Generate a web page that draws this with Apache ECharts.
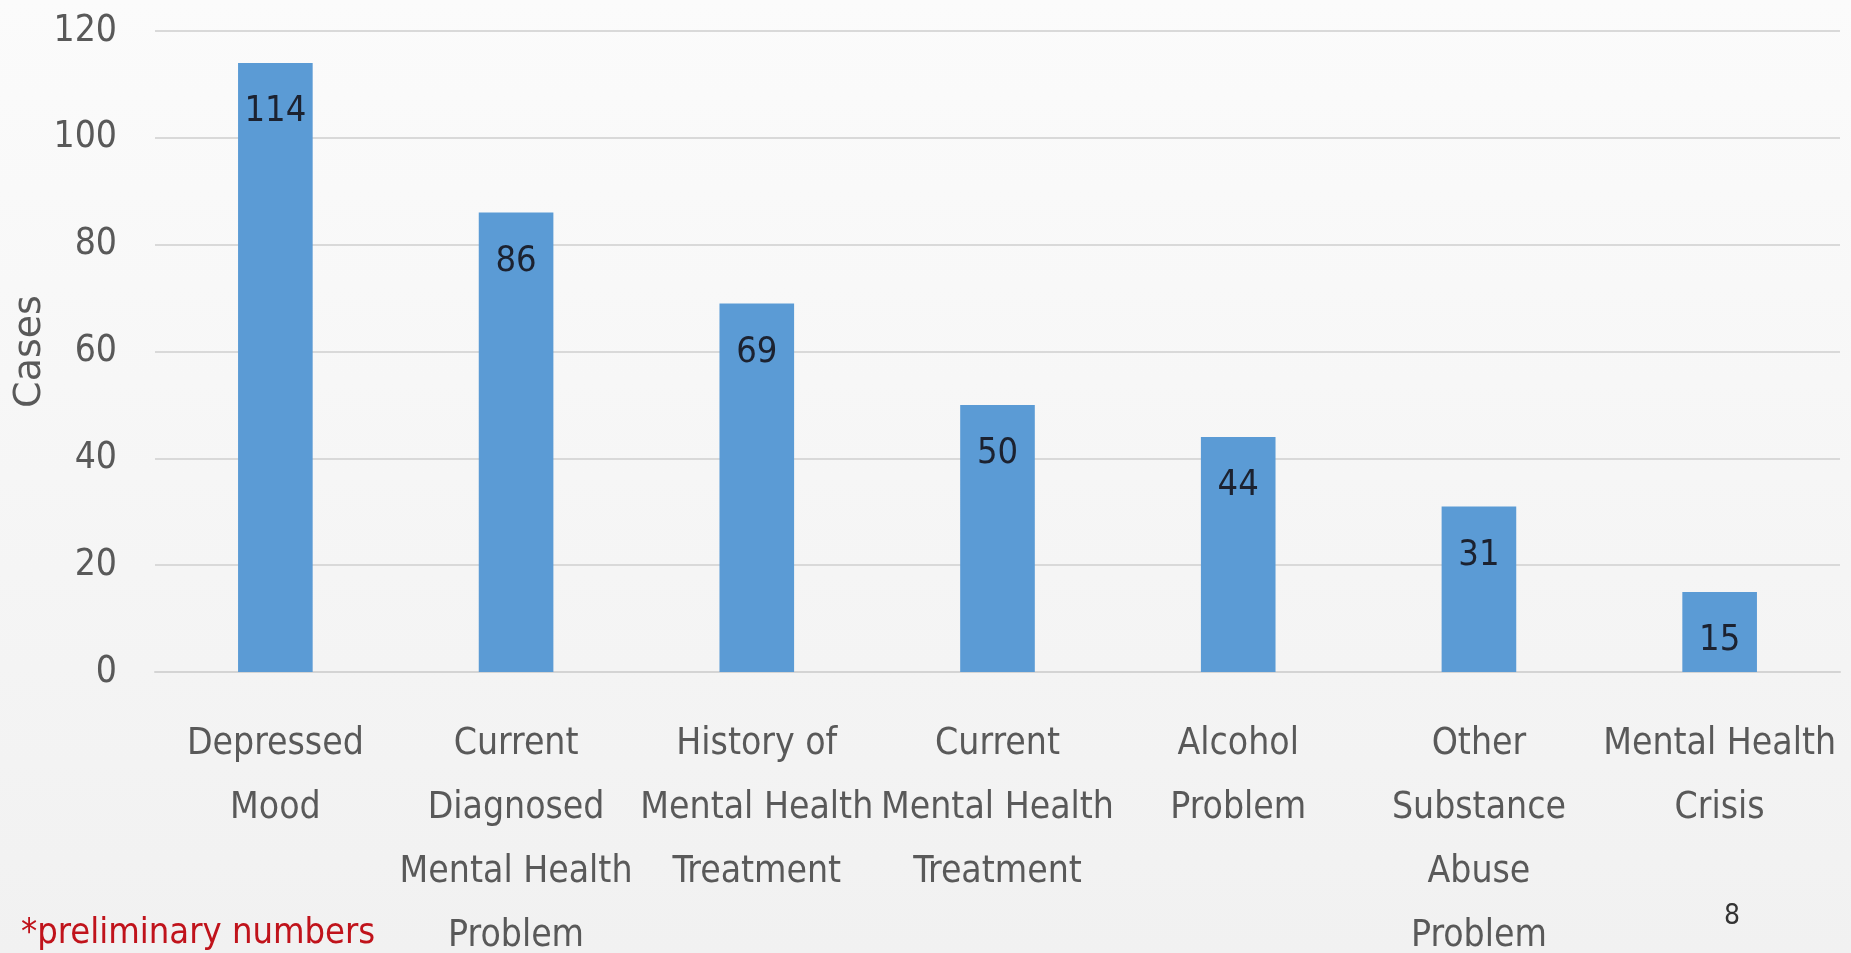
<!DOCTYPE html>
<html>
<head>
<meta charset="utf-8">
<script src="https://cdn.jsdelivr.net/npm/echarts@6/dist/echarts.min.js"></script>
<style>
html,body{margin:0;padding:0;width:1851px;height:953px;overflow:hidden;}
#chart{width:1851px;height:953px;}
</style>
</head>
<body>
<div id="chart"></div>
<script>
const categories = [
  'Depressed\nMood',
  'Current\nDiagnosed\nMental Health\nProblem',
  'History of\nMental Health\nTreatment',
  'Current\nMental Health\nTreatment',
  'Alcohol\nProblem',
  'Other\nSubstance\nAbuse\nProblem',
  'Mental Health\nCrisis'
];
const cases = [114, 86, 69, 50, 44, 31, 15];
const yTicks = { min: 0, max: 120, interval: 20 };
const axisName = 'Cases';
const footnote = '*preliminary numbers';
const pageNumber = '8';

const FONT = '"Liberation Sans Narrow", "DejaVu Sans Condensed", "Liberation Sans", sans-serif';

const chart = echarts.init(document.getElementById('chart'), null, { renderer: 'canvas' });
chart.setOption({
  backgroundColor: {
    type: 'linear', x: 0, y: 0, x2: 0, y2: 1,
    colorStops: [{ offset: 0, color: '#fbfbfb' }, { offset: 1, color: '#f1f1f1' }]
  },
  textStyle: { fontFamily: FONT },
  grid: { left: 155, right: 11, top: 31, bottom: 281, containLabel: false, outerBoundsMode: 'none' },
  xAxis: {
    type: 'category',
    data: categories,
    axisLine: { show: true, lineStyle: { color: '#d4d4d4', width: 2 } },
    axisTick: { show: false },
    axisLabel: {
      interval: 0,
      color: '#595959',
      fontSize: 37,
      lineHeight: 64,
      margin: 40,
      fontFamily: FONT
    }
  },
  yAxis: {
    type: 'value',
    min: yTicks.min, max: yTicks.max, interval: yTicks.interval,
    name: axisName,
    nameLocation: 'middle',
    nameGap: 106,
    nameMoveOverlap: false,
    nameRotate: 90,
    nameTextStyle: { color: '#595959', fontSize: 38, fontFamily: '"DejaVu Sans", sans-serif' },
    axisLine: { show: false },
    axisTick: { show: false },
    splitLine: { lineStyle: { color: '#d9d9d9', width: 2 } },
    axisLabel: { color: '#595959', fontSize: 37, margin: 38, fontFamily: FONT }
  },
  series: [{
    type: 'bar',
    data: cases,
    barWidth: '31%',
    itemStyle: { color: '#5b9bd5' },
    label: {
      show: true,
      position: 'insideTop',
      distance: 31,
      color: '#1c2230',
      fontSize: 36,
      fontFamily: FONT
    }
  }],
  graphic: [
    {
      type: 'text', left: 21, top: 916,
      style: { text: footnote, fill: '#c0131b', fontSize: 36, fontFamily: FONT }
    },
    {
      type: 'text', left: 1724, top: 903,
      style: { text: pageNumber, fill: '#333333', fontSize: 28, fontFamily: FONT }
    }
  ]
});
</script>
</body>
</html>
